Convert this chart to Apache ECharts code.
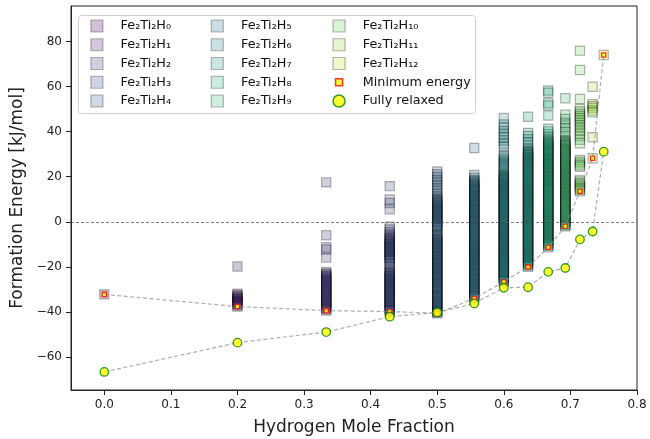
<!DOCTYPE html>
<html>
<head>
<meta charset="utf-8">
<script src="https://cdn.jsdelivr.net/npm/echarts@6/dist/echarts.min.js"></script>
<style>
  html, body { margin: 0; padding: 0; background: #fff; }
  #chart { width: 650px; height: 439px; }
</style>
</head>
<body>
<div id="chart"></div>
<script>
// Hydrogen mole fraction of Fe2Ti2Hn, n = 0..12
const molFraction = [0, 0.2, 0.3333, 0.4286, 0.5, 0.5556, 0.6, 0.6364, 0.6667, 0.6923, 0.7143, 0.7333, 0.75];

// Formation energies (kJ/mol) of every configuration, per hydrogen count
const h0 = [-32.2];
const h1 = [-19.8, -31.9, -32.4, -33.0, -33.5, -34.0, -34.4, -34.9, -35.3, -35.8, -36.4, -37.0, -37.6];
const h2 = [17.5, -6.0, -11.3, -12.3, -15.9, -22.3, -22.9, -23.4, -24.0, -24.5, -25.1, -25.6, -26.2, -26.7,
            -27.3, -27.8, -28.4, -28.9, -29.5, -30.0, -30.6, -31.1, -31.7, -32.2, -32.8, -33.3, -33.9, -34.4,
            -35.0, -35.5, -36.1, -36.6, -37.2, -37.7, -38.3, -38.8, -39.4];
const h3 = [15.8, 9.9, 8.3, 5.5, -2.2, -3.4, -4.6, -5.7, -6.7, -7.3, -7.8, -8.3, -8.8, -9.3, -9.8, -10.3,
            -10.8, -11.3, -11.8, -12.3, -12.8, -13.3, -13.8, -14.3, -14.8, -15.3, -15.8, -16.3, -16.8, -17.4,
            -18.6, -19.9, -21.2, -22.0, -22.5, -23.0, -23.5, -24.0, -24.5, -25.0, -25.5, -26.0, -26.5, -27.0,
            -27.5, -28.0, -28.5, -29.0, -29.5, -30.0, -30.5, -31.0, -31.5, -32.0, -32.5, -33.0, -33.5, -34.0,
            -34.5, -35.0, -35.5, -36.0, -36.5, -37.0, -37.5, -38.0, -38.5, -39.0, -39.4, -39.8];
const h4 = [22.3, 21.1, 19.9, 18.6, 17.5, 16.2, 15.0, 13.9, 12.6, 11.4, 10.3, 9.8, 9.3, 8.8, 8.3, 7.8, 7.3,
            6.8, 6.3, 5.8, 5.3, 4.8, 4.3, 3.8, 3.3, 2.8, 2.3, 1.8, 1.3, 0.8, 0.3, -0.2, -0.7, -1.2, -1.7, -2.2,
            -2.6, -4.0, -5.3, -6.0, -6.5, -7.1, -7.6, -8.1, -8.6, -9.1, -9.6, -10.2, -10.7, -11.2, -11.7, -12.2,
            -12.7, -13.3, -13.8, -14.3, -14.8, -15.3, -15.8, -16.4, -16.9, -17.4, -17.9, -18.4, -18.9, -19.5,
            -20.0, -20.5, -21.0, -21.5, -22.0, -22.6, -23.1, -23.6, -24.1, -24.6, -25.1, -25.7, -26.2, -26.7,
            -27.2, -27.7, -28.2, -28.8, -29.3, -29.8, -30.3, -30.8, -31.3, -31.9, -32.4, -32.9, -33.4, -33.9,
            -34.4, -35.0, -35.5, -36.0, -36.5, -37.0, -37.5, -38.1, -38.6, -39.1, -39.6, -40.1, -40.6];
const h5 = [32.7, 20.8, 19.6, 18.6, 18.1, 17.6, 17.0, 16.5, 16.0, 15.5, 15.0, 14.4, 13.9, 13.4, 12.9, 12.4,
            11.8, 11.3, 10.8, 10.3, 9.8, 9.2, 8.7, 8.2, 7.7, 7.2, 6.6, 6.1, 5.6, 5.1, 4.6, 4.0, 3.5, 3.0, 2.5,
            2.0, 1.4, 0.9, 0.4, -0.1, -0.6, -1.2, -1.7, -2.2, -2.7, -3.2, -3.8, -4.3, -4.8, -5.3, -5.8, -6.4,
            -6.9, -7.4, -7.9, -8.4, -9.0, -9.5, -10.0, -10.5, -11.0, -11.6, -12.1, -12.6, -13.1, -13.6, -14.2,
            -14.7, -15.2, -15.7, -16.2, -16.8, -17.3, -17.8, -18.3, -18.8, -19.4, -19.9, -20.4, -20.9, -21.4,
            -22.0, -22.5, -23.0, -23.5, -24.0, -24.6, -25.1, -25.6, -26.1, -26.6, -27.2, -27.7, -28.2, -28.7,
            -29.2, -29.8, -30.3, -30.8, -31.3, -31.8, -32.4, -32.9, -33.4, -34.0];
const h6 = [46.0, 43.2, 41.7, 40.3, 38.9, 37.4, 36.0, 34.6, 33.3, 29.8, 28.9, 28.0, 27.1, 26.2, 25.3, 24.4,
            23.5, 22.6, 21.7, 20.8, 20.3, 19.8, 19.3, 18.8, 18.3, 17.8, 17.3, 16.8, 16.3, 15.8, 15.3, 14.8,
            14.3, 13.8, 13.3, 12.8, 12.3, 11.8, 11.3, 10.8, 10.3, 9.8, 9.3, 8.8, 8.3, 7.8, 7.3, 6.8, 6.3, 5.8,
            5.3, 4.8, 4.3, 3.8, 3.3, 2.8, 2.3, 1.8, 1.3, 0.8, 0.3, -0.2, -0.7, -1.2, -1.7, -2.2, -2.7, -3.2,
            -3.7, -4.2, -4.7, -5.2, -5.7, -6.2, -6.7, -7.2, -7.7, -8.2, -8.7, -9.2, -9.7, -10.2, -10.7, -11.2,
            -11.7, -12.2, -12.7, -13.2, -13.7, -14.2, -14.7, -15.2, -15.7, -16.2, -16.7, -17.2, -17.7, -18.2,
            -18.7, -19.2, -19.7, -20.2, -20.7, -21.2, -21.7, -22.2, -22.7, -23.2, -23.7, -24.2, -24.7, -25.2,
            -25.7, -26.2, -26.6];
const h7 = [46.6, 39.4, 38.1, 36.6, 35.1, 33.7, 32.4, 31.6, 31.1, 30.6, 30.1, 29.6, 29.1, 28.6, 28.1, 27.6,
            27.1, 26.6, 26.1, 25.6, 25.1, 24.6, 24.1, 23.6, 23.1, 22.6, 22.1, 21.6, 21.1, 20.6, 20.1, 19.6,
            19.1, 18.6, 18.1, 17.6, 17.1, 16.6, 16.1, 15.6, 15.1, 14.6, 14.1, 13.6, 13.1, 12.6, 12.1, 11.6,
            11.1, 10.6, 10.1, 9.6, 9.1, 8.6, 8.1, 7.6, 7.1, 6.6, 6.1, 5.6, 5.1, 4.6, 4.1, 3.6, 3.1, 2.6, 2.1,
            1.6, 1.1, 0.6, 0.1, -0.4, -0.9, -1.4, -1.9, -2.4, -2.9, -3.4, -3.9, -4.4, -4.9, -5.4, -5.9, -6.4,
            -6.9, -7.4, -7.9, -8.4, -8.9, -9.4, -9.9, -10.4, -10.9, -11.4, -11.9, -12.4, -12.9, -13.4, -13.9,
            -14.4, -14.9, -15.4, -15.9, -16.4, -16.9, -17.4, -17.9, -18.4, -18.9, -19.4, -20.0];
const h8 = [58.2, 57.2, 52.6, 51.6, 47.1, 41.3, 40.1, 38.9, 37.7, 36.6, 35.9, 35.4, 34.9, 34.4, 33.9, 33.4,
            32.9, 32.4, 31.9, 31.4, 30.9, 30.4, 29.9, 29.4, 28.9, 28.4, 27.9, 27.4, 26.9, 26.4, 25.9, 25.4,
            24.9, 24.4, 23.9, 23.4, 22.9, 22.4, 21.9, 21.4, 20.9, 20.4, 19.9, 19.4, 18.9, 18.4, 17.9, 17.4,
            16.9, 16.4, 15.9, 15.4, 14.9, 14.4, 13.9, 13.4, 12.9, 12.4, 11.9, 11.4, 10.9, 10.4, 9.9, 9.4, 8.9,
            8.4, 7.9, 7.4, 6.9, 6.4, 5.9, 5.4, 4.9, 4.4, 3.9, 3.4, 2.9, 2.4, 1.9, 1.4, 0.9, 0.4, -0.1, -0.6,
            -1.1, -1.6, -2.1, -2.6, -3.1, -3.6, -4.1, -4.6, -5.1, -5.6, -6.1, -6.6, -7.1, -7.6, -8.1, -8.6,
            -9.1, -9.6, -10.1, -10.6, -11.3];
const h9 = [54.8, 47.5, 45.6, 44.0, 42.7, 41.4, 39.7, 38.0, 36.3, 35.8, 35.3, 34.8, 34.3, 33.8, 33.3, 32.8,
            32.3, 31.8, 31.3, 30.8, 30.3, 29.8, 29.3, 28.8, 28.3, 27.8, 27.3, 26.8, 26.3, 25.8, 25.3, 24.8,
            24.3, 23.8, 23.3, 22.8, 22.3, 21.8, 21.3, 20.8, 20.3, 19.8, 19.3, 18.8, 18.3, 17.8, 17.3, 16.8,
            16.3, 15.8, 15.3, 14.8, 14.3, 13.8, 13.3, 12.8, 12.3, 11.8, 11.3, 10.8, 10.3, 9.8, 9.3, 8.8, 8.3,
            7.8, 7.3, 6.8, 6.3, 5.8, 5.3, 4.8, 4.3, 3.8, 3.3, 2.8, 2.3, 1.8, 1.3, 0.8, 0.3, -0.2, -0.7, -1.2,
            -1.6, -2.0];
const h10 = [75.9, 67.3, 54.5, 50.0, 48.9, 47.8, 46.9, 46.0, 45.0, 43.9, 42.8, 41.7, 40.5, 39.2, 37.9, 36.4,
             34.8, 27.4, 26.6, 25.9, 25.1, 24.4, 18.6, 17.9, 17.1, 16.4, 15.7, 14.9, 14.2, 13.5];
const h11 = [59.9, 52.2, 51.4, 50.6, 49.4, 48.6, 37.5, 28.2];
const h12 = [74.0];

const energies = [h0, h1, h2, h3, h4, h5, h6, h7, h8, h9, h10, h11, h12];
const compNames = ['Fe₂Ti₂H₀', 'Fe₂Ti₂H₁', 'Fe₂Ti₂H₂', 'Fe₂Ti₂H₃', 'Fe₂Ti₂H₄', 'Fe₂Ti₂H₅', 'Fe₂Ti₂H₆',
                   'Fe₂Ti₂H₇', 'Fe₂Ti₂H₈', 'Fe₂Ti₂H₉', 'Fe₂Ti₂H₁₀', 'Fe₂Ti₂H₁₁', 'Fe₂Ti₂H₁₂'];

// Lowest-energy configuration and fully relaxed structure per composition
const minEnergy = [-32.2, -37.6, -39.4, -39.8, -40.6, -34.0, -26.6, -20.0, -11.3, -2.0, 13.5, 28.2, 74.0];
const relaxed = [-66.6, -53.6, -48.9, -42.1, -40.2, -36.2, -29.3, -29.0, -22.2, -20.5, -7.8, -4.3, 31.1];

const xTicks = [0, 0.1, 0.2, 0.3, 0.4, 0.5, 0.6, 0.7, 0.8];
const yTicks = [-60, -40, -20, 0, 20, 40, 60, 80];

// viridis, sampled at n / 13
const palette = ['#440154', '#471c6d', '#44357f', '#3d4c89', '#34618d', '#2c748e', '#25878d',
                 '#219a89', '#27ac81', '#41bd72', '#69cc5a', '#99d83d', '#cce126'];

function rgba(hex, a) {
  const r = parseInt(hex.slice(1, 3), 16), g = parseInt(hex.slice(3, 5), 16), b = parseInt(hex.slice(5, 7), 16);
  return 'rgba(' + r + ',' + g + ',' + b + ',' + a + ')';
}

const FONT = 'DejaVu Sans';
const ALPHA = 0.3;
const edge = 'rgba(0,0,0,0.36)';

const series = energies.map((vals, n) => ({
  name: compNames[n],
  type: 'scatter',
  symbol: 'rect',
  symbolSize: 9.2,
  silent: true,
  z: 2,
  data: vals.map(v => [molFraction[n], v]),
  itemStyle: { color: rgba(palette[n], ALPHA), borderColor: edge, borderWidth: 1.2 }
}));

const dashStyle = { color: 'rgba(140,140,140,0.7)', width: 1.2, type: [4, 2.5] };

series.push({
  type: 'line', silent: true, z: 3, symbol: 'none', showSymbol: false,
  data: molFraction.map((x, i) => [x, minEnergy[i]]),
  lineStyle: dashStyle,
  markLine: {
    silent: true, symbol: ['none', 'none'], label: { show: false },
    lineStyle: { color: 'rgba(70,70,70,0.85)', width: 0.8, type: [3, 2] },
    data: [{ yAxis: 0 }]
  }
});
series.push({
  type: 'line', silent: true, z: 3, symbol: 'none', showSymbol: false,
  data: molFraction.map((x, i) => [x, relaxed[i]]),
  lineStyle: dashStyle
});
series.push({
  name: 'Minimum energy', type: 'scatter', symbol: 'rect', symbolSize: 4.3, silent: true, z: 4,
  data: molFraction.map((x, i) => [x, minEnergy[i]]),
  itemStyle: { color: '#ffff00', borderColor: '#ff0000', borderWidth: 1.3 }
});
series.push({
  name: 'Fully relaxed', type: 'scatter', symbol: 'circle', symbolSize: 8.5, silent: true, z: 5,
  data: molFraction.map((x, i) => [x, relaxed[i]]),
  itemStyle: { color: '#ffff00', borderColor: '#008000', borderWidth: 1.3 }
});

function legendItem(name) {
  const n = compNames.indexOf(name);
  if (n >= 0) {
    return { name, icon: 'rect', itemStyle: { color: rgba(palette[n], ALPHA), borderColor: edge, borderWidth: 1.2 } };
  }
  if (name === 'Minimum energy') {
    return { name, icon: 'path://M0 0M12 12M2.5 2.5h7v7h-7z',
             itemStyle: { color: '#ffff00', borderColor: '#ff0000', borderWidth: 1.5 } };
  }
  return { name, icon: 'circle', itemStyle: { color: '#ffff00', borderColor: '#008000', borderWidth: 1.5 } };
}

const legendBase = {
  orient: 'vertical', top: 19, padding: 0, itemWidth: 12, itemHeight: 12, itemGap: 4.75,
  selectedMode: false, z: 6,
  textStyle: { fontFamily: FONT, fontSize: 12.8, color: '#111', lineHeight: 14, padding: [0, 0, 0, 12.7] }
};

const option = {
  animation: false,
  backgroundColor: '#fff',
  textStyle: { fontFamily: FONT },
  grid: { left: 71, right: 13, top: 6, bottom: 49, show: true, borderColor: '#222', borderWidth: 1,
          backgroundColor: 'transparent', containLabel: false, outerBoundsMode: 'none' },
  graphic: [{
    type: 'rect', left: 78, top: 15, z: 5,
    shape: { width: 397, height: 98, r: 3 },
    style: { fill: 'rgba(255,255,255,0.85)', stroke: '#d0d0d0', lineWidth: 1 }
  }],
  legend: [
    Object.assign({}, legendBase, { left: 90.3, data: compNames.slice(0, 5).map(legendItem) }),
    Object.assign({}, legendBase, { left: 210.7, data: compNames.slice(5, 10).map(legendItem) }),
    Object.assign({}, legendBase, { left: 332.3,
      data: compNames.slice(10, 13).concat(['Minimum energy', 'Fully relaxed']).map(legendItem) })
  ],
  xAxis: {
    type: 'value', min: -0.05, max: 0.8,
    name: 'Hydrogen Mole Fraction', nameLocation: 'middle', nameGap: 29,
    nameTextStyle: { fontFamily: FONT, fontSize: 17, color: '#222' },
    axisLine: { show: true, onZero: false, lineStyle: { color: '#222', width: 1 } },
    axisTick: { show: true, length: 5, customValues: xTicks, lineStyle: { color: '#222', width: 1 } },
    axisLabel: { customValues: xTicks, formatter: v => v.toFixed(1), fontFamily: FONT, fontSize: 12,
                 color: '#222', margin: 9 },
    splitLine: { show: false }
  },
  yAxis: {
    type: 'value', min: -74.6, max: 95.7,
    name: 'Formation Energy [kJ/mol]', nameLocation: 'middle', nameGap: 33,
    nameTextStyle: { fontFamily: FONT, fontSize: 17, color: '#222' },
    axisLine: { show: true, onZero: false, lineStyle: { color: '#222', width: 1 } },
    axisTick: { show: true, length: 5, customValues: yTicks, lineStyle: { color: '#222', width: 1 } },
    axisLabel: { customValues: yTicks, formatter: v => (v < 0 ? '\u2212' + Math.abs(v) : String(v)),
                 fontFamily: FONT, fontSize: 12, color: '#222', margin: 9 },
    splitLine: { show: false }
  },
  series: series
};

const chart = echarts.init(document.getElementById('chart'), null, { renderer: 'canvas' });
chart.setOption(option);
</script>
</body>
</html>
